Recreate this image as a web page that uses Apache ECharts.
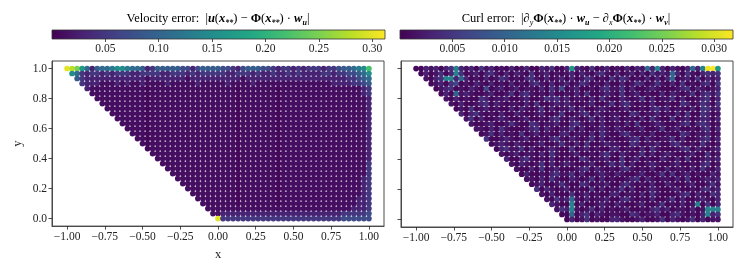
<!DOCTYPE html>
<html><head><meta charset="utf-8">
<script src="https://cdn.jsdelivr.net/npm/echarts@6/dist/echarts.min.js"></script>
<style>html,body{margin:0;padding:0;background:#fff}#c{width:746px;height:266px}</style>
</head><body><div id="c"></div>
<script>
// ---------- data ----------
const xTicks = [-1, -0.75, -0.5, -0.25, 0, 0.25, 0.5, 0.75, 1];
const yTicks = [0, 0.2, 0.4, 0.6, 0.8, 1.0];
const velTicks = [0.05, 0.10, 0.15, 0.20, 0.25, 0.30];
const curlTicks = [0.005, 0.010, 0.015, 0.020, 0.025, 0.030];
const velRange = [0, 0.312];
const curlRange = [0, 0.0318];
const gridStep = 1 / 30;   // spacing of the sample points in x and y

const velLevels = {'0':0.005,'1':0.012,'2':0.03,'3':0.05,'4':0.07,'5':0.09,'6':0.11,'7':0.13,'8':0.15,'9':0.17,'a':0.20,'b':0.22,'c':0.25,'d':0.28,'e':0.30};
const curlLevels = {'0':0.0006,'1':0.0016,'2':0.003,'3':0.0045,'4':0.007,'5':0.0105,'6':0.014,'7':0.017,'e':0.031,'f':0.032};

// rows from y=1 (top) down to y=0; columns x=-1 .. 1 ; '.' = no sample
const velTopRow = "edc9625667 8876652355 5554424555 5443245554 4323323233 3233455678 b";
const velRows = [
".863233232 3332233332 2333232333 3322333232 2322323222 2332334456 8",
"..53222222 2222221222 2222122222 2222212222 2222222222 2222223345 6",
"...3222111 2121121111 2111112111 1121111211 1111111111 1112222334 5",
"....211111 1111110111 1111111111 1111011111 1101111111 1111111112 3",
".....11111 1111110111 1111111111 1111011111 1101111111 1111111112 3",
"......1111 1111110111 1111111111 1111011111 1101111111 1111111111 2",
".......111 1111110111 1111111111 1111011111 1101111111 1111111111 2",
"........11 1111110111 1111111111 1111011111 1101111111 1111111111 2",
".........1 1111110111 1111111111 1111011111 1101111111 1111111111 2",
".......... 1111110111 1111111111 1111011111 1101111111 1111111111 2",
".......... .111110111 1111111111 1111011111 1101111111 1111111111 2",
".......... ..11110111 1111111111 1111011111 1101111111 1111111111 2",
".......... ...1110111 1111111111 1111011111 1101111111 1111111111 2",
".......... ....110111 1111111111 1111011111 1101111111 1111111111 2",
".......... .....10111 1111111111 1111011111 1101111111 1111111111 2",
".......... ......0111 1111111111 1111011111 1101111111 1111111111 2",
".......... .......111 1111111111 1111011111 1101111111 1111111111 2",
".......... ........11 1111111111 1111011111 1101111111 1111111111 2",
".......... .........1 1111111111 1111011111 1101111111 1111111111 3",
".......... .......... 1111111111 1111011111 1101111111 1111111111 3",
".......... .......... .111111111 1111011111 1101111111 1111111111 3",
".......... .......... ..11111111 1111011111 1101111111 1111111112 3",
".......... .......... ...1111111 1111011111 1101111111 1111111112 3",
".......... .......... ....111111 1111011111 1101111111 1111111112 3",
".......... .......... .....11111 1111011111 1101111111 1111111112 3",
".......... .......... ......1111 1111011111 1101111111 1111111122 3",
".......... .......... .......111 1111011111 1101111111 1111111122 3",
".......... .......... ........11 1111111111 1111111111 1111111222 3",
".......... .......... .........1 1222222222 2222222222 2222233333 4",
".......... .......... .......... e333333333 3333333333 3333344444 4"
];

const curlRows = [
"0021202362 1203120102 0120021300 2721030120 1020215262 02102526ef 7",
".020130263 0120231020 2103012010 1202102310 2012020312 1520310232 3",
"..10236625 2010201320 1023102012 0201320103 1320102020 2501203021 2",
"...0120340 1021020102 0102310201 2013201020 0201320131 0203010230 3",
"....012301 0210401201 2011020314 0120010231 1302001210 0012302101 2",
".....02051 2100120013 0231010200 1020300121 0301201002 0210130231 3",
"......1020 1003201120 0120013231 2011020310 0210130201 1302001230 2",
".......102 0012302101 1020300121 2100120013 0231010200 1003201320 3",
"........01 0301201002 0210130201 1302001210 0120010231 2011020331 2",
".........2 0231010200 2100120013 0012302101 1003201120 1020300320 1",
".......... 1302001210 0120010231 0210130201 2011020310 0301201220 2",
".......... .100120013 1003201120 0231010200 1020300121 0012302320 1",
".......... ..11020310 0012302101 1302001210 2100120013 0120010230 2",
".......... ...0130201 0301201002 2011020310 0231010200 1003201120 1",
".......... ....300121 0120010231 0210130201 0012302101 1302001230 2",
".......... .....01210 2100120013 1020300121 1003201120 0231010310 1",
".......... ......0231 1302001210 0301201002 2011020310 0012302101 2",
".......... .......101 2011020310 0120010231 0210130201 2100120030 1",
".......... ........20 0231010200 1003201120 0301201002 1020300121 2",
".......... .........1 0210130201 2100120013 1302001210 0120010230 1",
".......... .......... 1002030120 0012302101 0231010200 2011020310 2",
".......... .......... .020010231 1302001210 2100120013 0301201002 1",
".......... .......... ..11020310 0210130201 0012302101 1020300121 2",
".......... .......... ...0120013 1003201120 0231010200 2100120013 1",
".......... .......... ....302101 2010030201 1302001210 0120010231 2",
".......... .......... .....10200 0301201002 2011020310 0012302103 2",
".......... .......... ......1031 2510201120 0231010200 1302001210 2",
".......... .......... .......210 0602001210 2100120013 0102016030 2",
".......... .......... ........13 2610130201 0120010231 2011020166 6",
".......... .......... .........0 0502302101 1003201120 0231010262 3",
".......... .......... .......... 0201301002 2100120013 0210130201 1"
];

// ---------- styling ----------
const VIRIDIS = ['#440154','#482475','#414487','#355f8d','#2a788e','#21918c','#22a884','#44bf70','#7ad151','#bddf26','#fde725'];
const FONT = '"Liberation Serif", "DejaVu Serif", serif';
const LINE = '#4a4a4a';

function buildPoints(rows, levels) {
  const pts = [];
  const nRows = rows.length;
  rows.forEach((raw, r) => {
    const row = raw.replace(/ /g, '');
    const j = nRows - 1 - r;
    for (let i = 0; i < row.length; i++) {
      const c = row[i];
      if (c === '.') continue;
      pts.push([-1 + i * gridStep, j * gridStep, levels[c]]);
    }
  });
  return pts;
}
const velPts = buildPoints([velTopRow].concat(velRows), velLevels);
const curlPts = buildPoints(curlRows, curlLevels);

const minus = s => s.replace('-', '\u2212');

function plotX(gi, withName) {
  return {
    gridIndex: gi, type: 'value', min: -1.1, max: 1.1,
    axisLine: { show: true, onZero: false, lineStyle: { color: LINE, width: 1 } },
    axisTick: { show: true, customValues: xTicks, length: 3.5, lineStyle: { color: '#222', width: 0.8 } },
    axisLabel: { customValues: xTicks, formatter: v => minus(v.toFixed(2)), fontFamily: FONT, fontSize: 11.5, color: '#222', margin: 5 },
    splitLine: { show: false },
    name: withName ? 'x' : '', nameLocation: 'middle', nameGap: 19,
    nameTextStyle: { fontFamily: FONT, fontSize: 12.5, color: '#222' }
  };
}
function plotY(gi, withLabels) {
  return {
    gridIndex: gi, type: 'value', min: -0.05, max: 1.05,
    axisLine: { show: true, onZero: false, lineStyle: { color: LINE, width: 1 } },
    axisTick: { show: true, customValues: yTicks, length: 3.5, lineStyle: { color: '#222', width: 0.8 } },
    axisLabel: { show: withLabels, customValues: yTicks, formatter: v => v.toFixed(1), fontFamily: FONT, fontSize: 11.5, color: '#222', margin: 5 },
    splitLine: { show: false },
    name: withLabels ? 'y' : '', nameLocation: 'middle', nameGap: 28, nameRotate: 90,
    nameTextStyle: { fontFamily: FONT, fontSize: 12.5, color: '#222' }
  };
}
function cbX(gi, range, ticks, dec) {
  return {
    gridIndex: gi, type: 'value', min: range[0], max: range[1], position: 'bottom',
    axisLine: { show: false },
    axisTick: { show: true, customValues: ticks, length: 3, lineStyle: { color: '#222', width: 0.8 } },
    axisLabel: { customValues: ticks, formatter: v => v.toFixed(dec), fontFamily: FONT, fontSize: 11.5, color: '#222', margin: 4 },
    splitLine: { show: false }
  };
}
function cbY(gi) { return { gridIndex: gi, type: 'value', min: 0, max: 1, show: false }; }

function colorbar(params, api) {
  const cs = params.coordSys;
  return {
    type: 'rect',
    shape: { x: cs.x, y: cs.y, width: cs.width, height: cs.height },
    style: {
      fill: new echarts.graphic.LinearGradient(0, 0, 1, 0,
        VIRIDIS.map((c, k) => ({ offset: k / (VIRIDIS.length - 1), color: c }))),
      stroke: '#333', lineWidth: 0.8
    }
  };
}

const richStyles = {
  b: { fontFamily: FONT, fontSize: 12.5, fontStyle: 'italic', fontWeight: 'bold', color: '#222' },
  B: { fontFamily: FONT, fontSize: 12.5, fontWeight: 'bold', color: '#222' },
  s: { fontFamily: FONT, fontSize: 8, fontStyle: 'italic', fontWeight: 'bold', color: '#222', verticalAlign: 'bottom', lineHeight: 16 },
  si: { fontFamily: FONT, fontSize: 8, fontStyle: 'italic', color: '#222', verticalAlign: 'bottom', lineHeight: 16 },
  n: { fontFamily: FONT, fontSize: 12.5, color: '#222' }
};
const velTitle = '{n|Velocity error:  |}{b|u}{n|(}{b|x}{s|**}{n|) \u2212 }{B|\u03A6}{n|(}{b|x}{s|**}{n|) \u00B7 }{b|w}{s|u}{n||}';
const curlTitle = '{n|Curl error:  |\u2202}{si|y}{B|\u03A6}{n|(}{b|x}{s|**}{n|) \u00B7 }{b|w}{s|u}{n| \u2212 \u2202}{si|x}{B|\u03A6}{n|(}{b|x}{s|**}{n|) \u00B7 }{b|w}{s|v}{n||}';

const chart = echarts.init(document.getElementById('c'), null, { renderer: 'canvas' });
chart.setOption({
  animation: false,
  backgroundColor: '#fff',
  textStyle: { fontFamily: FONT },
  grid: [
    { left: 52, top: 61, width: 332, height: 166, show: true, borderColor: LINE, borderWidth: 1, backgroundColor: 'transparent' },
    { left: 401, top: 61, width: 332, height: 166, show: true, borderColor: LINE, borderWidth: 1, backgroundColor: 'transparent' },
    { left: 52, top: 30, width: 333, height: 9 },
    { left: 400, top: 30, width: 333, height: 9 }
  ],
  xAxis: [plotX(0, true), plotX(1, false), cbX(2, velRange, velTicks, 2), cbX(3, curlRange, curlTicks, 3)],
  yAxis: [plotY(0, true), plotY(1, false), cbY(2), cbY(3)],
  visualMap: [
    { type: 'continuous', show: false, min: velRange[0], max: velRange[1], dimension: 2, seriesIndex: 0, inRange: { color: VIRIDIS } },
    { type: 'continuous', show: false, min: curlRange[0], max: curlRange[1], dimension: 2, seriesIndex: 1, inRange: { color: VIRIDIS } }
  ],
  series: [
    { type: 'scatter', xAxisIndex: 0, yAxisIndex: 0, data: velPts, symbol: 'circle', symbolSize: 5.7, silent: true, itemStyle: { opacity: 1 } },
    { type: 'scatter', xAxisIndex: 1, yAxisIndex: 1, data: curlPts, symbol: 'circle', symbolSize: 5.7, silent: true, itemStyle: { opacity: 1 } },
    { type: 'custom', xAxisIndex: 2, yAxisIndex: 2, data: [[0, 0]], renderItem: colorbar, silent: true },
    { type: 'custom', xAxisIndex: 3, yAxisIndex: 3, data: [[0, 0]], renderItem: colorbar, silent: true }
  ],
  graphic: [
    { type: 'text', x: 218, y: 19, style: { text: velTitle, align: 'center', verticalAlign: 'middle', rich: richStyles, fontFamily: FONT, fontSize: 12.5 } },
    { type: 'text', x: 566, y: 19, style: { text: curlTitle, align: 'center', verticalAlign: 'middle', rich: richStyles, fontFamily: FONT, fontSize: 12.5 } }
  ]
});
</script>
</body></html>
